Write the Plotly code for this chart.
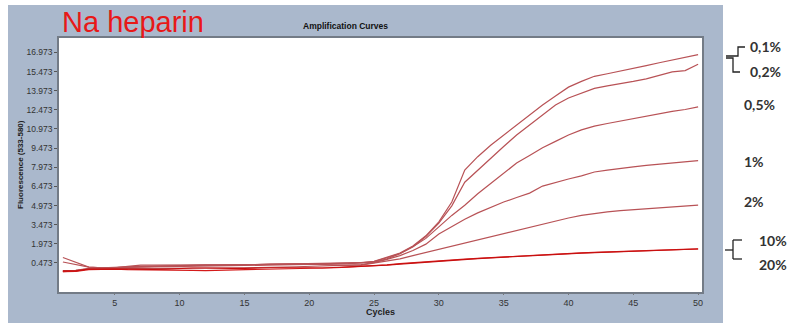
import plotly.graph_objects as go

# PCR cycle numbers
cycles = list(range(1, 51))

# Fluorescence (533-580) per cycle for each heparin concentration
f_01 = [0.9, 0.55, 0.15, 0.1, 0.15, 0.2, 0.2, 0.22, 0.25, 0.28, 0.28, 0.3, 0.3, 0.32, 0.32, 0.33, 0.35,
        0.36, 0.38, 0.4, 0.4, 0.42, 0.45, 0.5, 0.6, 0.9, 1.25, 1.8, 2.6, 3.7, 5.25, 7.75, 8.8, 9.7, 10.5,
        11.3, 12.05, 12.85, 13.55, 14.25, 14.7, 15.1, 15.3, 15.5, 15.73, 15.94, 16.16, 16.37, 16.58, 16.8]
f_02 = [0.55, 0.35, 0.15, 0.1, 0.12, 0.15, 0.18, 0.2, 0.22, 0.22, 0.24, 0.25, 0.26, 0.27, 0.28, 0.3, 0.3,
        0.32, 0.33, 0.35, 0.36, 0.38, 0.42, 0.48, 0.58, 0.88, 1.22, 1.75, 2.55, 3.6, 4.95, 6.8, 7.75, 8.7,
        9.6, 10.5, 11.3, 12.1, 12.85, 13.4, 13.8, 14.15, 14.35, 14.5, 14.7, 14.9, 15.15, 15.45, 15.55, 16.05]
f_05 = [-0.15, -0.1, 0.05, 0.08, 0.1, 0.12, 0.15, 0.17, 0.2, 0.25, 0.3, 0.3, 0.3, 0.32, 0.35, 0.35, 0.37,
        0.38, 0.4, 0.42, 0.43, 0.45, 0.48, 0.48, 0.52, 0.8, 1.2, 1.75, 2.4, 3.3, 4.2, 5.0, 5.9, 6.7, 7.5,
        8.3, 8.9, 9.5, 10.0, 10.5, 10.9, 11.2, 11.4, 11.6, 11.8, 12.0, 12.15, 12.35, 12.5, 12.7]
f_1 = [-0.2, -0.15, 0.0, 0.05, 0.05, 0.05, 0.03, 0.03, 0.05, 0.05, 0.05, 0.08, 0.08, 0.1, 0.1, 0.12, 0.12,
       0.15, 0.18, 0.2, 0.22, 0.25, 0.3, 0.35, 0.5, 0.75, 1.05, 1.45, 1.95, 2.75, 3.35, 3.9, 4.4, 4.85, 5.25,
       5.6, 5.95, 6.5, 6.8, 7.05, 7.3, 7.6, 7.75, 7.9, 8.0, 8.12, 8.22, 8.3, 8.4, 8.5]
f_2 = [-0.15, -0.1, 0.02, 0.05, 0.1, 0.2, 0.3, 0.3, 0.3, 0.32, 0.34, 0.32, 0.3, 0.3, 0.32, 0.35, 0.38,
       0.4, 0.4, 0.38, 0.35, 0.3, 0.28, 0.3, 0.45, 0.6, 0.8, 1.05, 1.3, 1.55, 1.8, 2.05, 2.3, 2.55, 2.8,
       3.05, 3.3, 3.55, 3.8, 4.0, 4.2, 4.35, 4.47, 4.57, 4.65, 4.73, 4.8, 4.86, 4.93, 5.0]
f_10 = [-0.2, -0.18, -0.05, 0.0, 0.0, -0.05, -0.05, -0.08, -0.1, -0.05, -0.1, -0.12, -0.1, -0.08, -0.05,
        -0.05, -0.05, -0.03, 0.0, 0.05, 0.05, 0.1, 0.15, 0.2, 0.25, 0.33, 0.42, 0.5, 0.58, 0.65, 0.72, 0.78,
        0.84, 0.9, 0.96, 1.02, 1.07, 1.12, 1.17, 1.22, 1.26, 1.3, 1.33, 1.37, 1.4, 1.44, 1.48, 1.51, 1.54, 1.58]
f_20 = [-0.15, -0.15, 0.0, 0.02, 0.0, 0.0, -0.02, -0.02, 0.0, 0.05, 0.08, 0.08, 0.05, 0.05, 0.05, 0.1,
        0.1, 0.1, 0.12, 0.1, 0.08, 0.12, 0.15, 0.18, 0.22, 0.3, 0.38, 0.46, 0.54, 0.62, 0.69, 0.75, 0.82,
        0.88, 0.94, 1.0, 1.05, 1.1, 1.15, 1.2, 1.24, 1.28, 1.32, 1.36, 1.39, 1.43, 1.47, 1.5, 1.53, 1.57]

series = [f_01, f_02, f_05, f_1, f_2, f_10, f_20]
series_names = ["0,1%", "0,2%", "0,5%", "1%", "2%", "10%", "20%"]
line_colors = ["#b85256", "#b85256", "#b85256", "#b85256", "#b85256", "#d41a1a", "#c81010"]

# Axis ticks
y_tick_vals = [0.473, 1.973, 3.473, 4.973, 6.473, 7.973, 9.473, 10.973, 12.473, 13.973, 15.473, 16.973]
y_tick_text = ["0.473", "1.973", "3.473", "4.973", "6.473", "7.973", "9.473", "10.973",
               "12.473", "13.973", "15.473", "16.973"]
x_tick_vals = [5, 10, 15, 20, 25, 30, 35, 40, 45, 50]

# Right-hand concentration labels: (text, pixel x, pixel y)
side_labels = [("0,1%", 748, 46), ("0,2%", 748, 71), ("0,5%", 742, 104), ("1%", 742, 161),
               ("2%", 742, 201), ("10%", 757, 240), ("20%", 757, 264)]

W, H = 790, 325
ML, MR, MT, MB = 59, 88, 38, 33
PW, PH = W - ML - MR, H - MT - MB


def px_x(p):
    return (p - ML) / PW


def px_y(p):
    return (H - MB - p) / PH


fig = go.Figure()
for vals, name, col in zip(series, series_names, line_colors):
    fig.add_trace(go.Scatter(x=cycles, y=vals, mode="lines", name=name,
                             line=dict(color=col, width=1.2), showlegend=False))

shapes = [
    # blue-grey instrument panel
    dict(type="rect", xref="paper", yref="paper", x0=px_x(8), x1=px_x(723), y0=px_y(323), y1=px_y(5),
         fillcolor="#aab8cc", line=dict(width=0), layer="below"),
    # white plotting area
    dict(type="rect", xref="paper", yref="paper", x0=0, x1=1, y0=0, y1=1,
         fillcolor="white", line=dict(width=0), layer="below"),
]

# bracket connectors beside the labels
bracket_paths = [
    [(726, 56), (738, 56), (738, 47), (745, 47)],
    [(726, 58), (733, 58), (733, 72), (740, 72)],
    [(725, 250), (733, 250)],
    [(733, 240), (733, 259)],
    [(733, 240), (742, 240)],
    [(733, 259), (742, 259)],
]
for pts in bracket_paths:
    d = "M " + " L ".join(f"{px_x(a):.5f},{px_y(b):.5f}" for a, b in pts)
    shapes.append(dict(type="path", xref="paper", yref="paper", path=d,
                       line=dict(color="#222222", width=1.3)))


def note(text, x, y, size, color, family="Liberation Sans", xanchor="center", angle=0):
    return dict(text=text, x=px_x(x), y=px_y(y), xref="paper", yref="paper", xanchor=xanchor,
                yanchor="middle", textangle=angle, showarrow=False,
                font=dict(family=family, size=size, color=color))


annotations = [
    note("Na heparin", 60, 22, 29, "#e81818", xanchor="left"),
    note("<b>Amplification Curves</b>", 345, 26, 8.5, "#111111"),
    note("<b>Fluorescence (533-580)</b>", 20, 165, 8, "#222222", angle=-90),
    note("<b>Cycles</b>", 380, 312, 9, "#222222"),
]
for txt, lx, ly in side_labels:
    annotations.append(note(f"<b>{txt}</b>", lx, ly, 14, "#333333", family="Lato", xanchor="left"))

fig.update_layout(
    width=W, height=H,
    margin=dict(l=ML, r=MR, t=MT, b=MB, pad=0),
    paper_bgcolor="white",
    plot_bgcolor="rgba(0,0,0,0)",
    shapes=shapes,
    annotations=annotations,
    xaxis=dict(range=[0.7, 50.3], tickvals=x_tick_vals, showgrid=False, zeroline=False,
               showline=True, mirror=True, linecolor="#737b86", linewidth=1.6,
               ticks="outside", ticklen=1, tickcolor="#777777",
               tickfont=dict(family="Liberation Sans", size=9, color="#333333")),
    yaxis=dict(range=[-1.8, 18.1], tickvals=y_tick_vals, ticktext=y_tick_text, showgrid=False,
               zeroline=False, showline=True, mirror=True, linecolor="#737b86", linewidth=1.6,
               ticks="outside", ticklen=3, tickcolor="#555555",
               tickfont=dict(family="Liberation Sans", size=8.5, color="#333333")),
)

fig.write_html("out.html")
